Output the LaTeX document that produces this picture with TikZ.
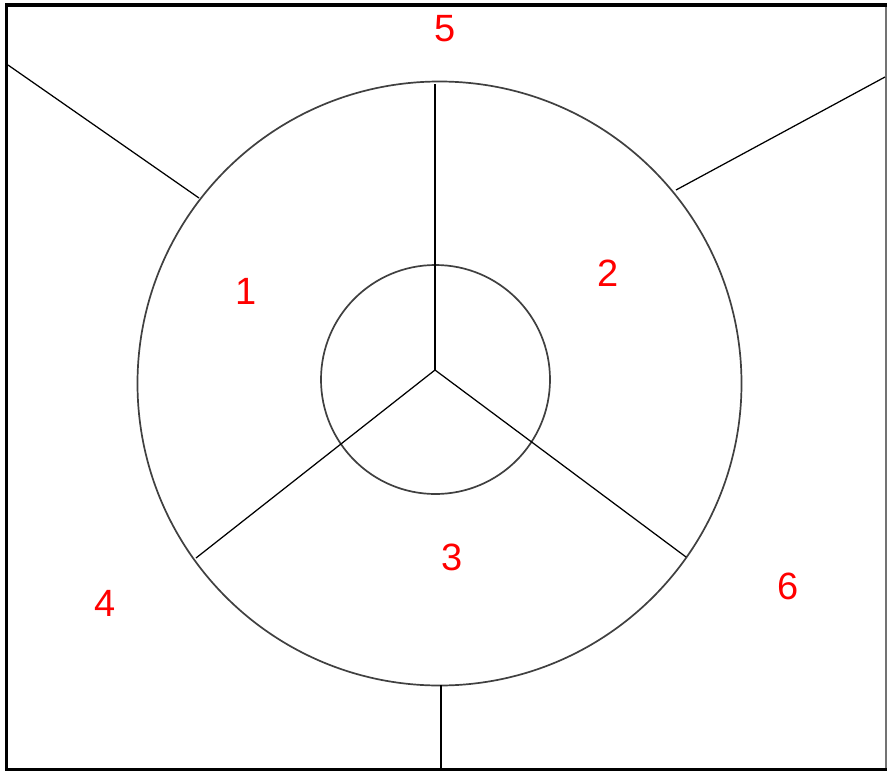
\documentclass[tikz,border=0pt]{standalone}
\usepackage{fontspec}
\setmainfont{Liberation Sans}
\begin{document}
\begin{tikzpicture}[x=1pt,y=-1pt,
  ring/.style={draw=black!75,line width=1.7pt,circle,inner sep=0pt},
  spoke/.style={draw=black,line width=1.25pt},
  lbl/.style={text=red,font=\fontsize{38}{38}\selectfont,inner sep=0pt}]
\useasboundingbox (0,0) rectangle (887,772);
\fill[white] (0,0) rectangle (887,772);
% frame
\draw[black!55,line width=1.2pt] (886,5) -- (886,769.5);
\draw[black,line width=3.2pt] (886.5,5) -- (6.5,5) -- (6.5,769.5) -- (886.5,769.5);
% circles
\node[ring,minimum size=604pt] (outer) at (439.5,383.5) {};
\node[ring,minimum size=229pt] (inner) at (435.5,379.5) {};
% spokes
\coordinate (c) at (435,370);
\coordinate (sTop) at (435,84);
\coordinate (sLeft) at (196,558);
\coordinate (sRight) at (686,557);
\draw[spoke] (c) -- (sTop);
\draw[spoke] (c) -- (sLeft);
\draw[spoke] (c) -- (sRight);
% outer lines
\coordinate (tlA) at (8,65);
\coordinate (tlB) at (199,198);
\coordinate (trA) at (885,77);
\coordinate (trB) at (676,190);
\coordinate (bA) at (441,685);
\coordinate (bB) at (441,768);
\draw[spoke] (tlA) -- (tlB);
\draw[spoke] (trA) -- (trB);
\draw[spoke] (bA) -- (bB);
% labels
\node[lbl] (l1) at (246,291) {1};
\node[lbl] (l2) at (608,273) {2};
\node[lbl] (l3) at (452,557) {3};
\node[lbl] (l4) at (105,603) {4};
\node[lbl] (l5) at (445,29) {5};
\node[lbl] (l6) at (788,586) {6};
\end{tikzpicture}
\end{document}
